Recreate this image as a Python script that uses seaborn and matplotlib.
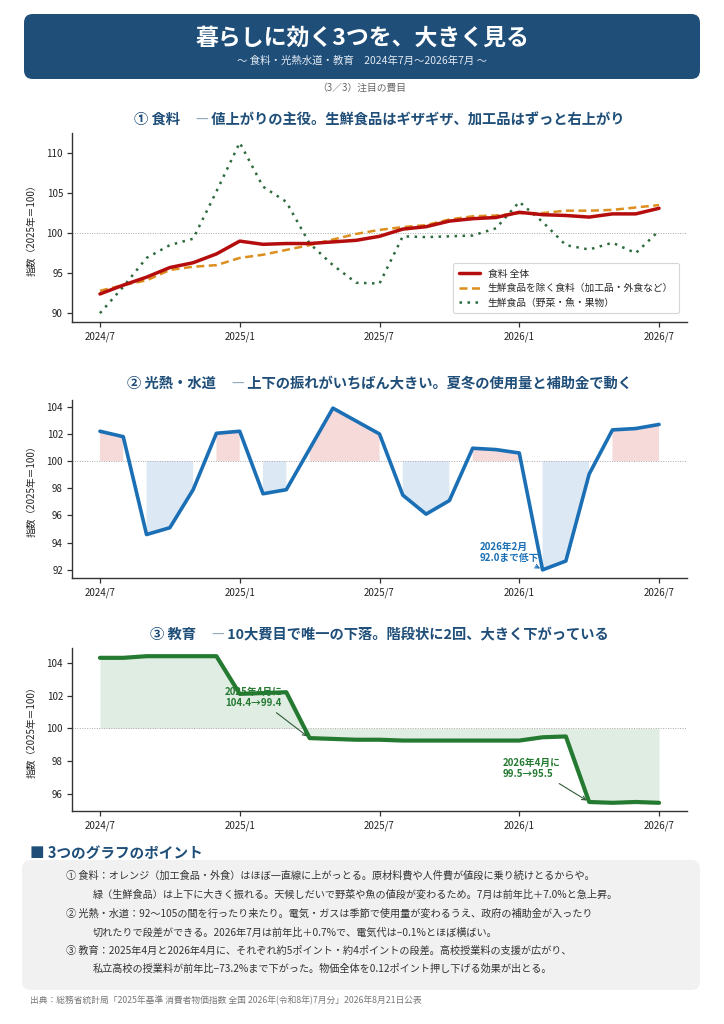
import numpy as np
import pandas as pd
import matplotlib
matplotlib.use("Agg")
import matplotlib.pyplot as plt
from matplotlib.patches import FancyBboxPatch
import seaborn as sns

# ---------------- data ----------------
month_idx = list(range(25))
tick_pos = [0, 6, 12, 18, 24]
tick_labels = ["2024/7", "2025/1", "2025/7", "2026/1", "2026/7"]

food_total = [92.4, 93.5, 94.5, 95.7, 96.3, 97.4, 99.0, 98.6, 98.7, 98.7, 98.9, 99.1,
              99.6, 100.5, 100.8, 101.5, 101.8, 101.95, 102.6, 102.3, 102.2, 102.0, 102.4, 102.4, 103.1]
food_core = [92.8, 93.5, 94.1, 95.4, 95.8, 96.0, 96.9, 97.3, 97.9, 98.5, 99.2, 99.9,
             100.4, 100.75, 101.0, 101.7, 102.1, 102.2, 102.5, 102.5, 102.8, 102.8, 102.9, 103.2, 103.5]
food_fresh = [90.0, 93.3, 96.9, 98.5, 99.3, 105.2, 111.3, 105.8, 103.9, 98.7, 96.0, 93.8,
              93.7, 99.6, 99.5, 99.6, 99.7, 100.6, 103.9, 101.4, 98.5, 97.95, 98.8, 97.5, 100.3]
utilities = [102.2, 101.8, 94.6, 95.1, 97.9, 102.05, 102.2, 97.6, 97.9, 100.9, 103.9, 102.95,
             102.0, 97.5, 96.1, 97.1, 100.95, 100.85, 100.6, 92.0, 92.65, 99.05, 102.3, 102.4, 102.7]
education = [104.3, 104.3, 104.4, 104.4, 104.4, 104.4, 102.1, 102.15, 102.2, 99.4, 99.35, 99.3,
             99.3, 99.25, 99.25, 99.25, 99.25, 99.25, 99.25, 99.45, 99.5, 95.5, 95.45, 95.5, 95.45]

series_labels = ["食料 全体", "生鮮食品を除く食料（加工品・外食など）", "生鮮食品（野菜・魚・果物）"]

title = "暮らしに効く3つを、大きく見る"
subtitle = "～ 食料・光熱水道・教育　2024年7月～2026年7月 ～"
page_note = "（3／3）注目の費目"
panel_heads = ["① 食料", "② 光熱・水道", "③ 教育"]
panel_tails = [
    "値上がりの主役。生鮮食品はギザギザ、加工品はずっと右上がり",
    "上下の振れがいちばん大きい。夏冬の使用量と補助金で動く",
    "10大費目で唯一の下落。階段状に2回、大きく下がっている",
]
ylabel = "指数（2025年＝100）"
points_heading = "■ 3つのグラフのポイント"
points_lines = [
    ("① 食料：オレンジ（加工食品・外食）はほぼ一直線に上がっとる。原材料費や人件費が値段に乗り続けとるからや。", False),
    ("緑（生鮮食品）は上下に大きく振れる。天候しだいで野菜や魚の値段が変わるため。7月は前年比＋7.0%と急上昇。", True),
    ("② 光熱・水道：92～105の間を行ったり来たり。電気・ガスは季節で使用量が変わるうえ、政府の補助金が入ったり", False),
    ("切れたりで段差ができる。2026年7月は前年比＋0.7%で、電気代は−0.1%とほぼ横ばい。", True),
    ("③ 教育：2025年4月と2026年4月に、それぞれ約5ポイント・約4ポイントの段差。高校授業料の支援が広がり、", False),
    ("私立高校の授業料が前年比−73.2%まで下がった。物価全体を0.12ポイント押し下げる効果が出とる。", True),
]
source = "出典：総務省統計局「2025年基準 消費者物価指数 全国 2026年(令和8年)7月分」2026年8月21日公表"

# ---------------- style ----------------
sns.set_theme(style="ticks")
plt.rcParams['font.family'] = ['Noto Sans CJK JP', 'DejaVu Sans']
plt.rcParams['axes.unicode_minus'] = False

NAVY = "#1f4e79"
RED = "#b50d0d"
ORANGE = "#dc8e1e"
DGREEN = "#2e6b3c"
BLUE = "#1a6fb5"
EGREEN = "#257a32"

W, H = 724, 1024
fig = plt.figure(figsize=(W / 100, H / 100), dpi=100)
fig.patch.set_facecolor("white")
renderer = fig.canvas.get_renderer()

def fx(px):
    return px / W

def fy(py):
    return 1 - py / H

def panel_title(cx_px, y_px, head, tail):
    parts = [(head, dict(color=NAVY, fontweight="bold")),
             ("　　", dict(color=NAVY, fontweight="bold")),
             ("—", dict(color="#8fa6bd", fontweight="normal")),
             (" " + tail, dict(color=NAVY, fontweight="bold"))]
    texts = []
    widths = []
    for s, kw in parts:
        t = fig.text(0, fy(y_px), s, ha="left", va="center", fontsize=10.3, **kw)
        widths.append(t.get_window_extent(renderer).width)
        texts.append(t)
    # shrink the gap: double ideographic space replaced by measured width * 0.75
    widths[1] *= 0.55
    total = sum(widths)
    x = cx_px - total / 2
    for t, w in zip(texts, widths):
        t.set_x(fx(x))
        x += w
    texts[1].set_text("")

# header
hdr = FancyBboxPatch((fx(24), fy(79)), fx(700) - fx(24), fy(14) - fy(79),
                     boxstyle="round,pad=0,rounding_size=0.012", transform=fig.transFigure,
                     facecolor=NAVY, edgecolor="none", mutation_aspect=W / H)
fig.patches.append(hdr)
fig.text(0.5, fy(38), title, ha="center", va="center", color="white",
         fontsize=16.5, fontweight="bold")
fig.text(0.5, fy(61), subtitle, ha="center", va="center", color="#e3ebf3", fontsize=7.5)
fig.text(0.5, fy(88), page_note, ha="center", va="center", color="#666666", fontsize=7)

df = pd.DataFrame({"m": month_idx, "total": food_total, "core": food_core,
                   "fresh": food_fresh, "util": utilities, "edu": education})

def style_ax(ax):
    ax.set_xticks(tick_pos)
    ax.set_xticklabels(tick_labels)
    ax.tick_params(axis="both", labelsize=7, length=3.5, width=0.9, color="#333333",
                   labelcolor="#222222", pad=3)
    for s in ["top", "right"]:
        ax.spines[s].set_visible(False)
    for s in ["left", "bottom"]:
        ax.spines[s].set_color("#333333")
        ax.spines[s].set_linewidth(1.0)
    ax.set_xlabel("")
    ax.set_ylabel(ylabel, fontsize=7, color="#222222", labelpad=6)
    ax.axhline(100, color="#aaaaaa", lw=0.7, ls=(0, (1, 1.5)), zorder=1)
    ax.set_xlim(-1.2, 25.2)
    ax.set_facecolor("white")

AX_L, AX_R = 72, 687
CX = (AX_L + AX_R) / 2

# ---------- panel 1 ----------
ax1 = fig.add_axes([fx(AX_L), fy(322), fx(AX_R) - fx(AX_L), fy(133) - fy(322)])
sns.lineplot(data=df, x="m", y="total", ax=ax1, color=RED, lw=2.5, label=series_labels[0], zorder=4)
sns.lineplot(data=df, x="m", y="core", ax=ax1, color=ORANGE, lw=1.8, linestyle=(0, (3.2, 1.8)),
             label=series_labels[1], zorder=3)
sns.lineplot(data=df, x="m", y="fresh", ax=ax1, color=DGREEN, lw=1.8, linestyle=(0, (1, 2.2)),
             label=series_labels[2], zorder=2)
style_ax(ax1)
ax1.set_ylim(88.9, 112.5)
ax1.set_yticks([90, 95, 100, 105, 110])
leg = ax1.legend(loc="lower right", fontsize=7, frameon=True, borderpad=0.6,
                 handlelength=2.2, labelspacing=0.45, bbox_to_anchor=(0.995, 0.02))
leg.get_frame().set_edgecolor("#cccccc")
leg.get_frame().set_linewidth(0.8)
panel_title(CX, 120, panel_heads[0], panel_tails[0])

# ---------- panel 2 ----------
ax2 = fig.add_axes([fx(AX_L), fy(578), fx(AX_R) - fx(AX_L), fy(400) - fy(578)])
u = np.array(utilities)
m = np.array(month_idx)
ax2.fill_between(m, 100, u, where=u >= 100, color="#f6d9d9", lw=0, zorder=1)
ax2.fill_between(m, 100, u, where=u <= 100, color="#dce9f5", lw=0, zorder=1)
sns.lineplot(data=df, x="m", y="util", ax=ax2, color=BLUE, lw=2.6, zorder=4)
style_ax(ax2)
ax2.set_ylim(91.4, 104.5)
ax2.set_yticks([92, 94, 96, 98, 100, 102, 104])
ax2.annotate("2026年2月\n92.0まで低下", xy=(19, utilities[19]), xytext=(16.3, 93.3),
             ha="left", va="center", fontsize=7, fontweight="bold", color=BLUE,
             linespacing=1.15,
             arrowprops=dict(arrowstyle="->", color=BLUE, lw=0.8, shrinkA=0, shrinkB=2),
             zorder=5)
panel_title(CX, 384, panel_heads[1], panel_tails[1])

# ---------- panel 3 ----------
ax3 = fig.add_axes([fx(AX_L), fy(811), fx(AX_R) - fx(AX_L), fy(648) - fy(811)])
ax3.fill_between(m, 100, np.array(education), color="#e0ede3", lw=0, zorder=1)
sns.lineplot(data=df, x="m", y="edu", ax=ax3, color=EGREEN, lw=3.0, zorder=4)
style_ax(ax3)
ax3.set_ylim(94.95, 104.9)
ax3.set_yticks([96, 98, 100, 102, 104])
ax3.annotate("2025年4月に\n104.4→99.4", xy=(9, education[9]), xytext=(5.36, 101.9),
             ha="left", va="center", fontsize=7, fontweight="bold", color=EGREEN,
             linespacing=1.15,
             arrowprops=dict(arrowstyle="->", color="#2f5a36", lw=0.8, shrinkA=2, shrinkB=2,
                             relpos=(0.78, 0.0)),
             zorder=3)
ax3.annotate("2026年4月に\n99.5→95.5", xy=(21, education[21]), xytext=(17.27, 97.56),
             ha="left", va="center", fontsize=7, fontweight="bold", color=EGREEN,
             linespacing=1.15,
             arrowprops=dict(arrowstyle="->", color="#2f5a36", lw=0.8, shrinkA=2, shrinkB=2,
                             relpos=(0.85, 0.0)),
             zorder=5)
panel_title(CX, 635, panel_heads[2], panel_tails[2])

for ax in (ax1, ax2, ax3):
    ax.yaxis.set_label_coords(-0.058, 0.5)

# ---------- points box ----------
fig.text(fx(30), fy(853), points_heading, ha="left", va="center", color=NAVY,
         fontsize=10.5, fontweight="bold")
box = FancyBboxPatch((fx(22), fy(990)), fx(700) - fx(22), fy(860) - fy(990),
                     boxstyle="round,pad=0,rounding_size=0.012", transform=fig.transFigure,
                     facecolor="#f1f1f1", edgecolor="none", mutation_aspect=W / H)
fig.patches.append(box)
line_y = [876, 895, 914, 933, 951, 969]
for (txt, indent), yy in zip(points_lines, line_y):
    fig.text(fx(93 if indent else 66), fy(yy), txt, ha="left", va="center",
             color="#333333", fontsize=7.3)
fig.text(fx(30), fy(1000), source, ha="left", va="center", color="#777777", fontsize=6.3)

fig.savefig("out.png", dpi=100, facecolor="white")
